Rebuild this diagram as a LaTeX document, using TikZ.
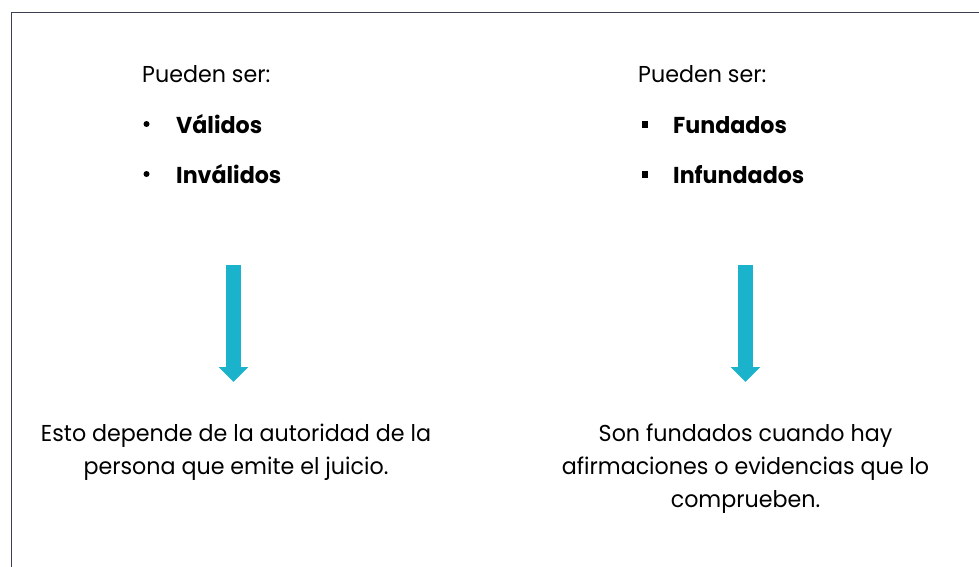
\documentclass[tikz,border=0pt]{standalone}
\usepackage{fontspec}
\setmainfont{Poppins}[FakeStretch=0.965]
\usetikzlibrary{arrows.meta}
\definecolor{framec}{HTML}{3A4150}
\definecolor{arrowc}{HTML}{1AB3CB}
\tikzset{
  txt/.style={inner sep=0pt, anchor=base west, font=\fontsize{23}{33}\selectfont},
  btxt/.style={txt, font=\fontsize{23}{33}\selectfont\bfseries},
  ctxt/.style={inner sep=0pt, anchor=base, align=center, font=\fontsize{23}{33}\selectfont},
  bigarrow/.style={draw=arrowc, line width=15pt, -{Triangle[width=29pt,length=15pt]}},
  sqbullet/.style={fill=black, inner sep=0pt, minimum size=6.5pt},
  rdbullet/.style={fill=black, circle, inner sep=0pt, minimum size=6pt}
}
\begin{document}
\begin{tikzpicture}[x=1pt,y=-1pt]
\useasboundingbox (0,0) rectangle (979,567);
\begin{scope}
\clip (0,0) rectangle (979,567);
\draw[framec, line width=1.3pt] (11.5,600) -- (11.5,12.5) -- (1000,12.5);
\end{scope}
% left column
\node[txt] (lhead) at (142,83) {Pueden ser:};
\node[rdbullet] (lb1) at (146.5,124) {};
\node[btxt] (l1) at (176,133) {Válidos};
\node[rdbullet] (lb2) at (146.5,174) {};
\node[btxt] (l2) at (176,183) {Inválidos};
% right column
\node[txt] (rhead) at (638,83) {Pueden ser:};
\node[sqbullet] (rb1) at (645,124.5) {};
\node[btxt] (r1) at (673,133) {Fundados};
\node[sqbullet] (rb2) at (645,174.5) {};
\node[btxt] (r2) at (673,183) {Infundados};
% arrows
\coordinate (la0) at (233.5,265);
\coordinate (la1) at (233.5,382);
\coordinate (ra0) at (745.5,265);
\coordinate (ra1) at (745.5,382);
\draw[bigarrow] (la0) -- (la1);
\draw[bigarrow] (ra0) -- (ra1);
% bottom texts (anchored at the baseline of their last line)
\node[ctxt] (ltext) at (236,474) {Esto depende de la autoridad de la\\persona que emite el juicio.};
\node[ctxt] (rtext) at (745.5,507) {Son fundados cuando hay\\afirmaciones o evidencias que lo\\comprueben.};
\end{tikzpicture}
\end{document}
